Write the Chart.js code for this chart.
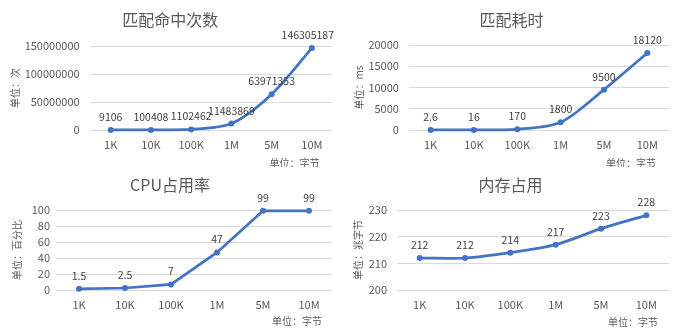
<!DOCTYPE html>
<html>
<head>
<meta charset="utf-8">
<script src="https://cdn.jsdelivr.net/npm/chart.js@4.4.1/dist/chart.umd.min.js"></script>
<style>
  html, body { margin: 0; padding: 0; background: #fff; }
  #wrap { position: relative; width: 673px; height: 334px; overflow: hidden; }
  canvas { position: absolute; }
</style>
</head>
<body>
<div id="wrap">
  <canvas id="hitChart" width="336" height="167" style="left:0;top:0"></canvas>
  <canvas id="timeChart" width="337" height="167" style="left:336px;top:0"></canvas>
  <canvas id="cpuChart" width="336" height="167" style="left:0;top:167px"></canvas>
  <canvas id="memChart" width="337" height="167" style="left:336px;top:167px"></canvas>
</div>
<script>
// data
const sizes = ["1K", "10K", "100K", "1M", "5M", "10M"];
const hitCounts = [9106, 100408, 1102462, 11483869, 63971353, 146305187];
const matchTimes = [2.6, 16, 170, 1800, 9500, 18120];
const cpuUsage = [1.5, 2.5, 7, 47, 99, 99];
const memUsage = [212, 212, 214, 217, 223, 228];

const FONT = "'Noto Sans CJK SC', 'Noto Sans', sans-serif";
const BLUE = "#4472C4";
const GREY = "#595959";

// value labels above points + the "单位：字节" note under the x axis
const pointLabels = {
  id: "pointLabels",
  afterDatasetsDraw(chart) {
    const o = chart.options.plugins.pointLabels;
    const ctx = chart.ctx;
    const ds = chart.data.datasets[0];
    const meta = chart.getDatasetMeta(0);
    ctx.save();
    ctx.font = "10.5px " + FONT;
    ctx.fillStyle = "#404040";
    ctx.textAlign = "center";
    ctx.textBaseline = "middle";
    meta.data.forEach((pt, i) => {
      const txt = String(ds.data[i]);
      const half = ctx.measureText(txt).width / 2;
      // keep the label inside the canvas like the spreadsheet does
      const x = Math.min(pt.x, chart.width - half - 2);
      ctx.fillText(txt, x, pt.y - 13);
    });
    ctx.font = "10px " + FONT;
    ctx.fillStyle = GREY;
    ctx.textAlign = "right";
    ctx.fillText(o.unit, chart.chartArea.right - o.unitRight, chart.chartArea.bottom + o.unitDown);
    ctx.restore();
  },
};

function makeChart(id, title, yTitle, values, yMin, yMax, step, box) {
  const ctx = document.getElementById(id).getContext("2d");
  return new Chart(ctx, {
    type: "line",
    data: {
      labels: sizes,
      datasets: [
        {
          data: values,
          borderColor: BLUE,
          backgroundColor: BLUE,
          borderWidth: 2.75,
          pointRadius: 3,
          pointBorderWidth: 0,
          tension: box.tension,
          clip: false,
        },
      ],
    },
    options: {
      responsive: false,
      animation: false,
      layout: { padding: { left: box.padLeft, right: box.padRight, top: 0, bottom: 0 } },
      plugins: {
        legend: { display: false },
        tooltip: { enabled: false },
        title: {
          display: true,
          text: title,
          color: GREY,
          font: { family: FONT, size: 16, weight: "normal" },
          padding: { top: box.titleTop, bottom: box.titleBottom },
        },
        pointLabels: { unit: "单位：字节", unitRight: box.unitRight, unitDown: box.unitDown },
      },
      scales: {
        x: {
          offset: true,
          grid: { display: false, drawTicks: false },
          border: { display: false },
          ticks: { color: GREY, font: { family: FONT, size: 11 }, padding: 8 },
          afterFit: (s) => {
            s.height = box.xHeight;
            s.paddingLeft = 0;
            s.paddingRight = 0;
          },
        },
        y: {
          min: yMin,
          max: yMax,
          grid: { color: "#D9D9D9", drawTicks: false },
          border: { display: false },
          ticks: {
            stepSize: step,
            autoSkip: false,
            color: GREY,
            font: { family: FONT, size: 11 },
            padding: box.tickPad,
            callback: (v) => String(v),
          },
          title: {
            display: true,
            text: yTitle,
            color: GREY,
            font: { family: FONT, size: 10 },
            padding: { top: 4, bottom: 4 },
          },
          afterFit: (s) => { s.width = box.yWidth; },
        },
      },
    },
    plugins: [pointLabels],
  });
}

makeChart("hitChart", "匹配命中次数", "单位：次", hitCounts, 0, 150000000, 50000000, {
  padLeft: 5, padRight: 0.6, yWidth: 85.6, xHeight: 37, tickPad: 11,
  titleTop: 10.4, titleBottom: 16.4, unitRight: 12.4, unitDown: 33, tension: 0.3,
});
makeChart("timeChart", "匹配耗时", "单位：ms", matchTimes, 0, 20000, 5000, {
  padLeft: 13, padRight: -1, yWidth: 59.9, xHeight: 37, tickPad: 10,
  titleTop: 10.4, titleBottom: 15.4, unitRight: 13, unitDown: 33, tension: 0.3,
});
makeChart("cpuChart", "CPU占用率", "单位：百分比", cpuUsage, 0, 100, 20, {
  padLeft: 7, padRight: 3, yWidth: 49, xHeight: 44, tickPad: 6,
  titleTop: 8.4, titleBottom: 15.4, unitRight: 10, unitDown: 31, tension: 0,
});
makeChart("memChart", "内存占用", "单位：兆字节", memUsage, 200, 230, 10, {
  padLeft: 12, padRight: 0, yWidth: 49, xHeight: 44, tickPad: 10,
  titleTop: 8.4, titleBottom: 15.4, unitRight: 11, unitDown: 32, tension: 0.3,
});
</script>
</body>
</html>
